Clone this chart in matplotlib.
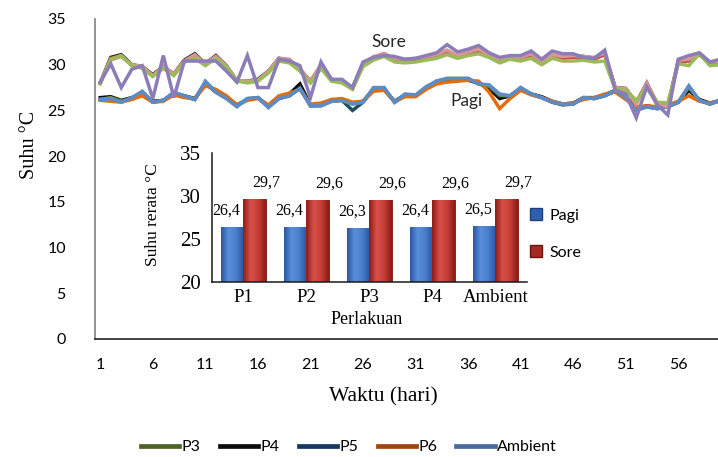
import numpy as np
import matplotlib
matplotlib.use("Agg")
import matplotlib.pyplot as plt
from matplotlib.lines import Line2D
from matplotlib.patches import Patch
from matplotlib.colors import LinearSegmentedColormap

# ---------------- data ----------------
days = list(range(1, 61))
x_ticks = [1, 6, 11, 16, 21, 26, 31, 36, 41, 46, 51, 56]
series_names = ["P3", "P4", "P5", "P6", "Ambient"]

# afternoon (Sore) readings
sore_P3 = [27.9,30.6,31.0,29.9,29.6,28.7,29.6,28.8,30.3,30.7,29.9,30.7,29.8,28.3,28.0,28.2,29.1,30.4,30.2,29.3,
           28.0,29.6,28.2,28.0,27.3,29.8,30.5,30.9,30.3,30.2,30.3,30.5,30.7,31.1,30.7,31.0,31.2,30.8,30.2,30.6,
           30.4,30.7,30.0,30.7,30.4,30.4,30.5,30.3,30.4,27.3,27.2,26.1,27.5,25.9,25.8,30.1,29.9,31.2,29.9,30.0]
sore_P4 = [28.0,30.8,31.1,30.0,29.8,28.9,29.8,29.0,30.5,31.2,30.1,31.0,29.9,28.2,28.2,28.4,29.3,30.7,30.5,29.5,
           28.2,29.9,28.4,28.2,27.5,30.1,30.8,31.2,30.6,30.5,30.6,30.9,31.1,31.5,30.9,31.3,31.6,31.0,30.5,30.9,
           30.7,31.1,30.3,31.0,30.8,30.9,30.9,30.7,31.2,27.5,27.4,25.8,28.0,25.7,25.5,30.4,30.5,31.2,30.2,30.3]
sore_P5 = [28.0,30.7,31.0,29.9,29.7,28.8,29.7,28.9,30.4,31.0,30.0,30.9,29.8,28.2,28.1,28.3,29.2,30.6,30.4,29.4,
           28.1,29.8,28.3,28.1,27.4,30.0,30.7,31.1,30.5,30.4,30.5,30.8,31.0,31.4,30.8,31.2,31.5,30.9,30.4,30.8,
           30.6,31.0,30.2,30.9,30.7,30.8,30.8,30.6,31.1,27.4,27.3,25.9,27.9,25.7,25.6,30.3,30.4,31.1,30.1,30.2]
sore_P6 = [28.1,30.5,30.9,30.0,29.8,28.8,29.8,29.0,30.4,31.1,30.1,30.9,29.9,28.3,28.2,28.3,29.3,30.7,30.6,29.5,
           28.2,30.0,28.4,28.2,27.5,30.1,30.9,31.2,30.7,30.6,30.7,30.9,31.1,31.6,31.0,31.4,31.7,31.1,30.6,30.9,
           30.8,31.2,30.4,31.1,30.9,31.0,30.9,30.8,31.3,27.5,27.4,25.7,28.0,25.8,25.4,30.5,30.6,31.3,30.3,30.4]
sore_Amb = [28.1,30.1,27.5,29.5,29.9,26.3,31.0,26.4,30.4,30.4,30.4,30.4,29.3,28.1,31.0,27.5,27.5,30.6,30.4,29.9,
            26.4,30.3,28.4,28.4,27.5,30.3,30.8,31.0,30.9,30.6,30.7,31.0,31.3,32.2,31.4,31.7,32.1,31.3,30.8,31.0,
            31.0,31.5,30.6,31.5,31.2,31.2,30.8,30.7,31.6,27.2,26.8,24.2,27.6,25.6,24.5,30.6,31.0,31.3,30.3,30.6]

# morning (Pagi) readings
pagi_P3 = [26.2,26.4,26.0,26.3,27.0,25.9,26.1,26.9,26.6,26.2,28.1,27.0,26.3,25.5,26.3,26.4,25.4,26.3,26.6,27.4,
           25.5,25.5,26.0,26.1,25.7,25.9,27.4,27.5,25.9,26.7,26.6,27.5,28.2,28.5,28.5,28.5,27.9,27.7,26.7,26.6,
           27.5,26.8,26.4,25.9,25.7,25.7,26.4,26.3,26.6,27.2,26.4,25.0,25.4,25.2,25.4,25.9,27.6,26.1,25.7,26.1]
pagi_P4 = [26.4,26.5,26.1,26.4,26.8,26.0,26.1,26.8,26.6,26.3,27.9,27.1,26.5,25.6,26.2,26.4,25.5,26.5,26.8,27.9,
           25.6,25.6,26.1,26.2,25.8,26.0,27.3,27.3,26.0,26.7,26.6,27.4,28.1,28.3,28.4,28.3,28.0,27.4,26.3,26.6,
           27.3,26.8,26.5,26.0,25.7,25.8,26.4,26.4,26.7,27.2,26.5,25.2,25.5,25.3,25.5,25.9,27.2,26.2,25.8,26.1]
pagi_P5 = [26.2,26.3,26.0,26.3,26.9,25.9,26.1,26.9,26.5,26.2,28.0,27.0,26.4,25.5,26.2,26.4,25.4,26.3,26.6,27.5,
           25.5,25.6,26.0,26.1,25.0,25.9,27.4,27.4,25.9,26.6,26.6,27.4,28.2,28.4,28.4,28.4,27.9,27.6,26.6,26.6,
           27.4,26.8,26.4,25.9,25.6,25.7,26.4,26.3,26.6,27.1,26.4,25.1,25.4,25.2,25.4,25.9,27.5,26.1,25.7,26.1]
pagi_P6 = [26.1,26.0,25.9,26.2,26.6,25.9,26.0,26.7,26.4,26.3,27.7,27.3,26.6,25.6,26.1,26.3,25.6,26.6,26.9,27.3,
           25.7,25.8,26.2,26.3,25.9,26.0,27.1,27.2,26.0,26.5,26.5,27.3,27.9,28.1,28.2,28.3,28.2,27.0,25.2,26.3,
           27.2,26.7,26.4,26.0,25.7,25.8,26.2,26.4,26.8,27.0,26.2,25.4,25.5,25.4,25.6,26.0,26.6,26.0,25.8,26.0]
pagi_Amb = [26.2,26.3,25.9,26.4,27.1,25.9,26.1,27.0,26.6,26.2,28.2,27.0,26.3,25.4,26.3,26.4,25.3,26.3,26.6,27.4,
            25.5,25.5,26.0,26.1,25.7,25.9,27.5,27.5,25.9,26.8,26.7,27.6,28.2,28.5,28.5,28.5,27.9,27.8,26.8,26.6,
            27.5,26.8,26.4,25.9,25.7,25.7,26.4,26.3,26.6,27.2,26.4,25.0,25.4,25.2,25.4,25.9,27.7,26.1,25.7,26.1]

# inset (mean temperatures)
inset_categories = ["P1", "P2", "P3", "P4", "Ambient"]
inset_pagi = [26.4, 26.4, 26.3, 26.4, 26.5]
inset_sore = [29.7, 29.6, 29.6, 29.6, 29.7]

# ---------------- style ----------------
SANS = ["Lato", "DejaVu Sans"]
SERIF = ["Liberation Serif", "DejaVu Serif"]

fig = plt.figure(figsize=(7.18, 4.57), dpi=100)
ax = fig.add_axes([95/718, 1-339/457, 630.6/718, 320/457])

sore_colors = {"P3": "#9BBB59", "P4": "#1A1A1A", "P5": "#C0504D", "P6": "#D99694", "Ambient": "#8C7DB8"}
pagi_colors = {"P3": "#77933C", "P4": "#0D0D0D", "P5": "#1F4E5F", "P6": "#E46C0A", "Ambient": "#5B8BC9"}
legend_colors = {"P3": "#4F6228", "P4": "#0D0D0D", "P5": "#17375E", "P6": "#A0450C", "Ambient": "#4A6A9C"}

sore = {"P3": sore_P3, "P4": sore_P4, "P5": sore_P5, "P6": sore_P6, "Ambient": sore_Amb}
pagi = {"P3": pagi_P3, "P4": pagi_P4, "P5": pagi_P5, "P6": pagi_P6, "Ambient": pagi_Amb}

lw = 2.5
for name in ["P4", "P5", "P6", "P3", "Ambient"]:
    ax.plot(days, sore[name], color=sore_colors[name], lw=lw, solid_joinstyle="miter", zorder=3)
for name in ["P4", "P5", "P3", "P6", "Ambient"]:
    ax.plot(days, pagi[name], color=pagi_colors[name], lw=lw, solid_joinstyle="miter", zorder=2)

ax.set_xlim(0.5, 60.5)
ax.set_ylim(0, 35)
ax.set_xticks(x_ticks)
ax.set_xticklabels([str(t) for t in x_ticks], family=SANS, fontsize=11.5)
ax.set_yticks(range(0, 36, 5))
ax.set_yticklabels([str(t) for t in range(0, 36, 5)], family=SANS, fontsize=11.5)
ax.tick_params(axis="both", length=0)
ax.tick_params(axis="y", pad=21)
ax.tick_params(axis="x", pad=14)
for s in ["top", "right"]:
    ax.spines[s].set_visible(False)
ax.spines["left"].set_color("#8A8A8A")
ax.spines["left"].set_linewidth(1.3)
ax.spines["bottom"].set_color("#222222")
ax.spines["bottom"].set_linewidth(1.2)

fig.text(30/718, 1-145/457, "Suhu °C", rotation=90, ha="center", va="center",
         family=SERIF, fontsize=14.5)
fig.text(383/718, 1-397/457, "Waktu (hari)", ha="center", va="center",
         family=SERIF, fontsize=15.5)

ax.text(28.5, 32.5, "Sore", ha="center", va="center", family=SANS, fontsize=12.5, color="#262626")
ax.text(35.8, 26.0, "Pagi", ha="center", va="center", family=SANS, fontsize=12.5, color="#262626")

handles = [Line2D([0], [0], color=legend_colors[n], lw=3.4) for n in series_names]
fig.legend(handles, series_names, loc="center", bbox_to_anchor=(349/718, 1-447/457),
           ncol=5, frameon=False, prop={"family": SANS, "size": 11.5},
           handlelength=2.4, handletextpad=0.15, columnspacing=1.2, borderpad=0)

# ---------------- inset ----------------
ia = fig.add_axes([211.7/718, 1-281.7/457, 315/718, 128.4/457])
ia.set_facecolor("white")
idx = np.arange(len(inset_categories))
bw = 0.36
b1 = ia.bar(idx - bw/2, [v - 20 for v in inset_pagi], bw, bottom=20, color="#3C6FBE",
            edgecolor="#1F3F7A", linewidth=0.6, zorder=2)
b2 = ia.bar(idx + bw/2, [v - 20 for v in inset_sore], bw, bottom=20, color="#C0392F",
            edgecolor="#7A1512", linewidth=0.6, zorder=2)

cm_blue = LinearSegmentedColormap.from_list("b", ["#2A57A0", "#5C8FDA", "#4A7DCB", "#2A57A0"])
cm_red = LinearSegmentedColormap.from_list("r", ["#8E1A16", "#D7514A", "#C53E36", "#8E1A16"])
grad = np.linspace(0, 1, 64).reshape(1, -1)
for bars, cm in ((b1, cm_blue), (b2, cm_red)):
    for b in bars:
        x0, y0, w, h = b.get_x(), b.get_y(), b.get_width(), b.get_height()
        im = ia.imshow(grad, cmap=cm, extent=(x0, x0 + w, y0, y0 + h), aspect="auto",
                       zorder=2.5, interpolation="bicubic")
        im.set_clip_path(b)

for i, (p, s) in enumerate(zip(inset_pagi, inset_sore)):
    ia.annotate(f"{p:.1f}".replace(".", ","), (i - bw/2, p), xytext=(-4.3, 11.5),
                textcoords="offset points", ha="center", va="center", family=SERIF, fontsize=11.5)
    ia.annotate(f"{s:.1f}".replace(".", ","), (i + bw/2, s), xytext=(8.6, 11.5),
                textcoords="offset points", ha="center", va="center", family=SERIF, fontsize=11.5)

ia.set_xlim(-0.5, 4.5)
ia.set_ylim(20, 35)
ia.set_xticks(idx)
ia.set_xticklabels(inset_categories, family=SERIF, fontsize=13.5)
ia.set_yticks([20, 25, 30, 35])
ia.set_yticklabels(["20", "25", "30", "35"], family=SERIF, fontsize=15)
ia.tick_params(axis="both", length=0)
ia.tick_params(axis="x", pad=5)
ia.tick_params(axis="y", pad=8)
for s in ["top", "right"]:
    ia.spines[s].set_visible(False)
for s in ["left", "bottom"]:
    ia.spines[s].set_color("#1A1A1A")
    ia.spines[s].set_linewidth(1.1)
ia.text(-0.185, 0.52, "Suhu rerata °C", rotation=90, transform=ia.transAxes,
        ha="center", va="center", family=SERIF, fontsize=12.5)
ia.text(0.492, -0.298, "Perlakuan", transform=ia.transAxes, ha="center", va="center",
        family=SERIF, fontsize=13)

lh = [Patch(facecolor="#2F5FAE", edgecolor="#1F3F7A"), Patch(facecolor="#A52A24", edgecolor="#6E1210")]
fig.legend(lh, ["Pagi", "Sore"], loc="center left", bbox_to_anchor=(530/718, 1-234/457),
           frameon=False, prop={"family": SANS, "size": 11.5}, handlelength=0.75, handleheight=0.75,
           handletextpad=0.5, labelspacing=1.4, borderpad=0, borderaxespad=0)

fig.savefig("out.png", dpi=100)
